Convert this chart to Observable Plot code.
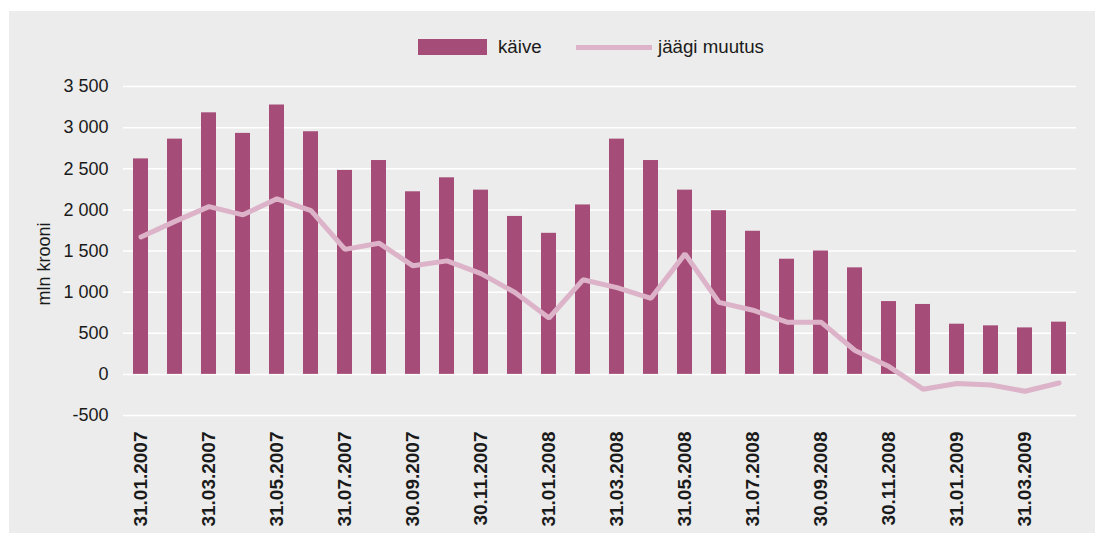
<!DOCTYPE html>
<html>
<head>
<meta charset="utf-8">
<script src="https://cdn.jsdelivr.net/npm/d3@7"></script>
<script src="https://cdn.jsdelivr.net/npm/@observablehq/plot@0.6"></script>
<style>
  html, body { margin: 0; padding: 0; background: #ffffff; }
  body { width: 1095px; height: 533px; position: relative; overflow: hidden;
         font-family: "Liberation Sans", Arial, Helvetica, sans-serif; color: #1a1a1a; }
  #panel { position: absolute; left: 9px; top: 11px; width: 1086px; height: 522px; background: #ebeceb; }
  #legend { position: absolute; left: 0; top: 0; width: 1095px; height: 70px; font-size: 18.7px; }
  .sw-bar { position: absolute; left: 418px; top: 39px; width: 69px; height: 16px; background: #a54d78; }
  .lb-bar { position: absolute; left: 498px; top: 36px; line-height: 22px; }
  .sw-line { position: absolute; left: 576px; top: 45px; width: 76px; height: 5px; background: #dcb3c8; }
  .lb-line { position: absolute; left: 658px; top: 36px; line-height: 22px; }
  #chart { position: absolute; left: 0; top: 70px; }
  #chart svg { background: transparent; }
</style>
</head>
<body>
<div id="panel"></div>
<div id="legend">
  <div class="sw-bar"></div><div class="lb-bar">käive</div>
  <div class="sw-line"></div><div class="lb-line">jäägi muutus</div>
</div>
<div id="chart"></div>
<script>
const dates = ["31.01.2007","28.02.2007","31.03.2007","30.04.2007","31.05.2007","30.06.2007",
  "31.07.2007","31.08.2007","30.09.2007","31.10.2007","30.11.2007","31.12.2007",
  "31.01.2008","29.02.2008","31.03.2008","30.04.2008","31.05.2008","30.06.2008",
  "31.07.2008","31.08.2008","30.09.2008","31.10.2008","30.11.2008","31.12.2008",
  "31.01.2009","28.02.2009","31.03.2009","30.04.2009"];
const kaive = [2620, 2860, 3180, 2930, 3275, 2950, 2480, 2600, 2220, 2390, 2240, 1920,
  1715, 2060, 2860, 2600, 2240, 1990, 1740, 1400, 1500, 1295, 885, 850, 610, 590, 565, 635];
const jaagiMuutus = [1670, 1860, 2040, 1940, 2135, 1990, 1520, 1595, 1320, 1380, 1225, 995,
  685, 1150, 1055, 925, 1465, 875, 780, 635, 635, 290, 95, -180, -110, -130, -205, -105];
const xTickLabels = ["31.01.2007","31.03.2007","31.05.2007","31.07.2007","30.09.2007","30.11.2007",
  "31.01.2008","31.03.2008","31.05.2008","31.07.2008","30.09.2008","30.11.2008","31.01.2009","31.03.2009"];
const yTicks = [-500, 0, 500, 1000, 1500, 2000, 2500, 3000, 3500];
const yLabel = "mln krooni";

const data = dates.map((d, i) => ({date: d, kaive: kaive[i], muutus: jaagiMuutus[i]}));
const fmt = v => d3.format(",")(v).replace(/,/g, " ").replace("\u2212", "-");

const chart = Plot.plot({
  width: 1095,
  height: 463,
  marginTop: 16,
  marginBottom: 118,
  marginLeft: 123,
  marginRight: 19,
  style: {background: "transparent", fontFamily: "'Liberation Sans', Arial, Helvetica, sans-serif", color: "#1a1a1a"},
  x: {type: "band", domain: dates, paddingInner: 0.56, paddingOuter: 0.28},
  y: {domain: [-500, 3500]},
  marks: [
    Plot.gridY(yTicks, {stroke: "#ffffff", strokeOpacity: 1, strokeWidth: 1.5}),
    Plot.axisY(yTicks, {tickSize: 0, tickPadding: 15, tickFormat: fmt, fontSize: 18, label: null, fill: "#1a1a1a"}),
    Plot.axisX(xTickLabels, {tickSize: 0, tickPadding: 16, tickRotate: -90, textAnchor: "end",
      fontSize: 19, fontWeight: "bold", label: null, fill: "#1a1a1a"}),
    Plot.barY(data, {x: "date", y: "kaive", fill: "#a54d78"}),
    Plot.line(data, {x: "date", y: "muutus", stroke: "#dcb3c8", strokeWidth: 5, strokeLinejoin: "miter"}),
    Plot.text([yLabel], {frameAnchor: "left", textAnchor: "middle", rotate: -90, dx: -79, dy: 13, fontSize: 18, fill: "#1a1a1a"})
  ]
});
document.getElementById("chart").appendChild(chart);
</script>
</body>
</html>
